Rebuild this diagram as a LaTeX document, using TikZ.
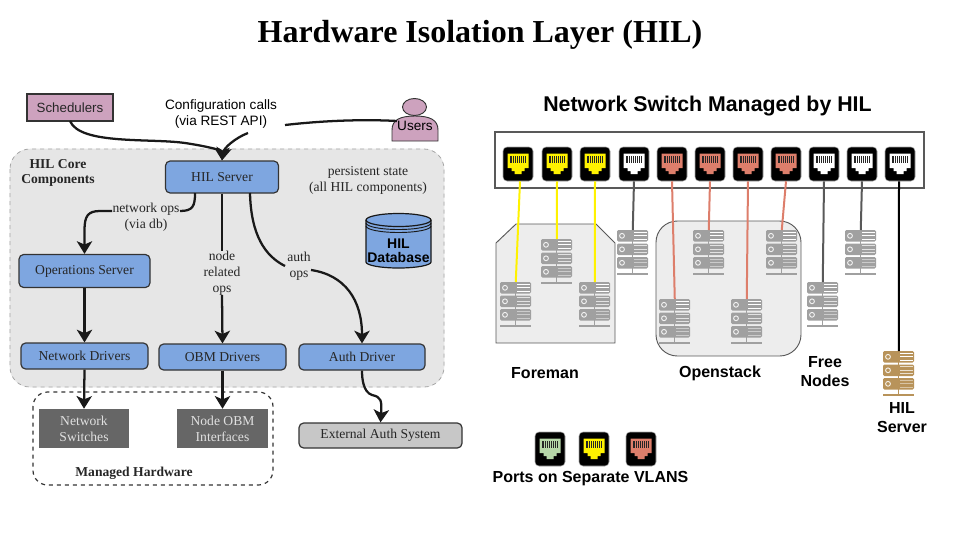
\documentclass[tikz,border=0pt]{standalone}
\usepackage{fontspec}
\setmainfont{Liberation Serif}
\setsansfont{Liberation Sans}
\usetikzlibrary{arrows.meta}
\definecolor{panel}{HTML}{E6E6E6}
\definecolor{bluebox}{HTML}{7EA6E0}
\definecolor{pinkbox}{HTML}{CDA2BE}
\definecolor{redport}{HTML}{DD7E6B}
\definecolor{greenport}{HTML}{B6D7A8}
\definecolor{rack}{HTML}{A0A0A0}
\definecolor{hilrack}{HTML}{B8935A}
\definecolor{darkline}{HTML}{595959}
\def\pxu{0.75pt}
\tikzset{
    boxtext/.style={font=\fontsize{10.2}{11.8}\selectfont, text=black!85, align=center},
    boldtext/.style={boxtext, font=\fontsize{10.2}{11.8}\selectfont\bfseries},
    sanstext/.style={font=\fontsize{10.2}{11.5}\sffamily\selectfont, align=center},
    headtext/.style={font=\fontsize{12}{14.2}\sffamily\bfseries\selectfont, align=center},
    corebox/.style={boxtext, draw=black!80, fill=bluebox, line width=0.9pt, rounded corners=3.5pt, inner sep=0pt},
    hwbox/.style={boxtext, fill=black!60, text=black!12, inner sep=0pt},
    flowline/.style={line width=1.7pt, black!90},
    flow/.style={flowline, -{Stealth[length=9.5pt,width=11.5pt,inset=2.5pt]}},
    portbox/.style={fill=black, draw=black!35, line width=0.4pt, rounded corners=3pt, minimum width=30*\pxu, minimum height=34*\pxu, inner sep=0pt},
    serverbox/.style={minimum width=31*\pxu, minimum height=45*\pxu, inner sep=0pt, anchor=north west},
    wire/.style={line width=1.5pt}
}

\begin{document}
\begin{tikzpicture}[x=\pxu, y=-\pxu]
        \useasboundingbox (0,0) rectangle (960,540);

        % One switch port: name, centre x, centre y, colour
        \def\portnode#1#2#3#4{
            \node[portbox] (#1) at (#2,#3) {};
            \begin{scope}[shift={(#2,#3)}]
                \fill[#4] (-10.5,-10.5) -- (10.5,-10.5) -- (10.5,4) -- (6.5,4) -- (6.5,7) -- (3.5,7) -- (3.5,10) -- (-3.5,10) -- (-3.5,7) -- (-6.5,7) -- (-6.5,4) -- (-10.5,4) -- cycle;
                \fill[black!85] (-8,-8) rectangle (8,-1);
                \draw[#4, line width=0.3pt] (-6,-8) -- (-6,-1) (-4,-8) -- (-4,-1) (-2,-8) -- (-2,-1) (0,-8) -- (0,-1) (2,-8) -- (2,-1) (4,-8) -- (4,-1) (6,-8) -- (6,-1);
            \end{scope}
        }

        % One rack of three units: name, left x, top y, colour
        \def\servernode#1#2#3#4{
            \node[serverbox] (#1) at (#2,#3) {};
            \begin{scope}[shift={(#2,#3)}]
                \fill[#4, rounded corners=1pt] (0,0) rectangle (31,11.5);
                \fill[#4, rounded corners=1pt] (0,13.5) rectangle (31,25);
                \fill[#4, rounded corners=1pt] (0,27) rectangle (31,38.5);
                \fill[#4] (0,42.5) rectangle (31,45);
                \draw[#4, line width=0.7pt] (15.5,0) -- (15.5,43);
                \draw[white!85!#4, line width=0.7pt] (5,5.8) circle (2.4) (5,19.3) circle (2.4) (5,32.8) circle (2.4);
                \draw[white, line width=0.55pt] (17,2.3) -- (30,2.3) (17,5.8) -- (30,5.8) (17,9.3) -- (30,9.3);
                \draw[white!70!#4, line width=0.55pt] (17,15.8) -- (30,15.8) (17,19.3) -- (30,19.3) (17,22.8) -- (30,22.8);
                \draw[white!45!#4, line width=0.55pt] (17,29.3) -- (30,29.3) (17,32.8) -- (30,32.8) (17,36.3) -- (30,36.3);
            \end{scope}
        }

        % Title
        \node[font=\fontsize{24}{28}\bfseries\selectfont] (Title) at (480,35) {Hardware Isolation Layer (HIL)};

        % Core components panel
        \draw[panel!100, fill=panel, rounded corners=15pt] (10,149) rectangle (444,387);
        \draw[black!35, dashed, line width=0.6pt, rounded corners=15pt] (10,149) rectangle (444,387);

        % Managed hardware group
        \draw[black!80, dashed, line width=0.9pt, rounded corners=11pt] (33,392) rectangle (273,485);

        % Boxes
        \node[boxtext, draw=black!80, fill=pinkbox, line width=0.9pt, font=\fontsize{10}{11.5}\sffamily\selectfont, minimum width=86*\pxu, minimum height=27*\pxu, inner sep=0pt] (Schedulers) at (70,107.5) {Schedulers};
        \node[corebox, minimum width=113*\pxu, minimum height=32*\pxu] (HIL_Server) at (222,177) {HIL Server};
        \node[corebox, minimum width=131*\pxu, minimum height=33*\pxu] (Ops_Server) at (84.5,271) {Operations Server};
        \node[corebox, minimum width=127*\pxu, minimum height=26*\pxu] (Net_Drivers) at (84.5,356) {Network Drivers};
        \node[corebox, minimum width=127*\pxu, minimum height=26*\pxu] (OBM_Drivers) at (222.5,357) {OBM Drivers};
        \node[corebox, minimum width=126*\pxu, minimum height=26*\pxu] (Auth_Driver) at (362,357) {Auth Driver};
        \node[hwbox, minimum width=90*\pxu, minimum height=39*\pxu] (Net_Switches) at (84,428.5) {Network\\Switches};
        \node[hwbox, minimum width=91*\pxu, minimum height=39*\pxu] (OBM_Interfaces) at (222.5,428.5) {Node OBM\\Interfaces};
        \node[corebox, fill=black!22, minimum width=163*\pxu, minimum height=25*\pxu] (Ext_Auth) at (380.5,435.5) {External Auth System};

        % Users icon
        \draw[black!80, fill=pinkbox, line width=0.7pt] (392,141) -- (392,130) .. controls (392,120) and (400,116) .. (415,116) .. controls (430,116) and (438,120) .. (438,130) -- (438,141) -- cycle;
        \draw[black!80, fill=pinkbox, line width=0.7pt] (414.5,107) ellipse (12 and 8.5);
        \node[sanstext, inner sep=0pt] (Users) at (415,126) {Users};

        % Database
        \draw[black!90, fill=bluebox, line width=0.9pt] (366,220) -- (366,262) arc[start angle=180, end angle=360, x radius=32.5, y radius=-6] -- (431,220) arc[start angle=0, end angle=180, x radius=32.5, y radius=-6.5] -- cycle;
        \draw[black!90, line width=0.9pt] (366,220) arc[start angle=180, end angle=360, x radius=32.5, y radius=-6.5];
        \draw[black!90, line width=0.7pt] (366,223) arc[start angle=180, end angle=360, x radius=32.5, y radius=-6.5];
        \draw[black!90, line width=0.7pt] (366,226) arc[start angle=180, end angle=360, x radius=32.5, y radius=-6.5];
        \node[sanstext, font=\fontsize{10.5}{10.5}\sffamily\bfseries\selectfont, inner sep=0pt] (Database) at (398.5,251) {HIL\\Database};

        % Free labels
        \node[boldtext] (Core_Label) at (58,173) {HIL Core\\Components};
        \node[boxtext] (State_Label) at (368,180.5) {persistent state\\(all HIL components)};
        \node[boldtext] (Managed_Label) at (134,473.5) {Managed Hardware};
        \node[sanstext, inner sep=0pt] (Calls_Label) at (221,114) {Configuration calls\\(via REST API)};
        \node[boxtext, inner sep=0pt] (NetOps_Label) at (146,217.5) {network ops\\(via db)};
        \node[boxtext, inner sep=0pt] (NodeOps_Label) at (222,273) {node\\related\\ops};
        \node[boxtext, inner sep=0pt] (AuthOps_Label) at (299,266) {auth\\ops};

        % Gaps where the REST line passes under its label
        \coordinate (Calls_R) at (285,125);
        \coordinate (Calls_L) at (248,133);

        % Connectors
        \draw[flow] (70,121) .. controls (80,145) and (150,138) .. (185,143) .. controls (205,146) and (222,150) .. (HIL_Server.north);
        \draw[flowline] (Users.north west) .. controls (360,119) and (320,121) .. (Calls_R);
        \draw[flow] (Calls_L) .. controls (235,138) and (224,148) .. (HIL_Server.north);
        \draw[flowline] (195,193) .. controls (195,206) and (193,211) .. (180,211);
        \draw[flow] (112,211) -- (100,211) .. controls (88,211) and (84.5,216) .. (84.5,230) -- (Ops_Server.north);
        \draw[flowline] (HIL_Server.south) -- (NodeOps_Label.north);
        \draw[flow] (NodeOps_Label.south) -- (OBM_Drivers.north);
        \draw[flowline] (250,193) .. controls (251,235) and (265,256) .. (285,266);
        \draw[flow] (311,270) .. controls (345,275) and (362,300) .. (Auth_Driver.north);
        \draw[flow] (Ops_Server.south) -- (Net_Drivers.north);
        \draw[flow] (Net_Drivers.south) -- (Net_Switches.north);
        \draw[flow] (OBM_Drivers.south) -- (OBM_Interfaces.north);
        \draw[flow] (Auth_Driver.south) .. controls (362,378) and (363,392) .. (372,395) .. controls (381,397) and (382,400) .. (Ext_Auth.north);

        % Right heading
        \node[font=\fontsize{16}{18}\sffamily\bfseries\selectfont] (Switch_Title) at (707.5,106) {Network Switch Managed by HIL};

        % Switch and groups
        \node[draw=darkline, line width=0.8pt, minimum width=429*\pxu, minimum height=56*\pxu, inner sep=0pt] (Switch) at (709.5,160) {};
        \draw[darkline, fill=black!7, line width=0.7pt] (496,243) -- (516,224) -- (596,224) -- (615,243) -- (615,343) -- (496,343) -- cycle;
        \draw[darkline, fill=black!7, line width=0.7pt, rounded corners=16pt] (656,221) rectangle (801,356);

        % Ports
        \portnode{P_1}{518}{164}{yellow}
        \portnode{P_2}{557}{164}{yellow}
        \portnode{P_3}{595}{164}{yellow}
        \portnode{P_4}{634}{164}{white}
        \portnode{P_5}{672}{164}{redport}
        \portnode{P_6}{710}{164}{redport}
        \portnode{P_7}{748}{164}{redport}
        \portnode{P_8}{786}{164}{redport}
        \portnode{P_9}{824}{164}{white}
        \portnode{P_10}{862}{164}{white}
        \portnode{P_11}{900}{164}{white}

        % Servers
        \servernode{S_1}{500}{282}{rack}
        \servernode{S_2}{541}{239}{rack}
        \servernode{S_3}{579}{282}{rack}
        \servernode{S_4}{617}{230}{rack}
        \servernode{S_5}{659}{299}{rack}
        \servernode{S_6}{693}{230}{rack}
        \servernode{S_7}{731}{299}{rack}
        \servernode{S_8}{766}{230}{rack}
        \servernode{S_9}{807}{282}{rack}
        \servernode{S_10}{845}{230}{rack}
        \servernode{S_11}{883}{351}{hilrack}

        % Wires from ports to servers
        \draw[wire, yellow] ([xshift=1.5pt]P_1.south) -- (S_1.north);
        \draw[wire, yellow] (P_2.south) -- (S_2.north);
        \draw[wire, yellow] (P_3.south) -- (S_3.north);
        \draw[wire, darkline] (P_4.south) -- (S_4.north);
        \draw[wire, redport] (P_5.south) -- (S_5.north);
        \draw[wire, redport] (P_6.south) -- (S_6.north);
        \draw[wire, redport] (P_7.south) -- (S_7.north);
        \draw[wire, redport] (P_8.south) -- (S_8.north);
        \draw[wire, darkline] (P_9.south) -- (S_9.north);
        \draw[wire, darkline] (P_10.south) -- (S_10.north);
        \draw[wire, black] ([xshift=-0.75pt]P_11.south) -- (S_11.north);

        % Group labels
        \node[headtext] (Foreman_Label) at (545,373) {Foreman};
        \node[headtext] (Openstack_Label) at (720,373) {Openstack};
        \node[headtext] (Free_Label) at (825,372) {Free\\Nodes};
        \node[headtext] (Server_Label) at (902,418) {HIL\\Server};

        % Legend
        \portnode{L_1}{550}{449}{greenport}
        \portnode{L_2}{594}{449}{yellow}
        \portnode{L_3}{641}{449}{redport}
        \node[headtext] (Legend_Label) at (590.5,479) {Ports on Separate VLANS};
\end{tikzpicture}
\end{document}
